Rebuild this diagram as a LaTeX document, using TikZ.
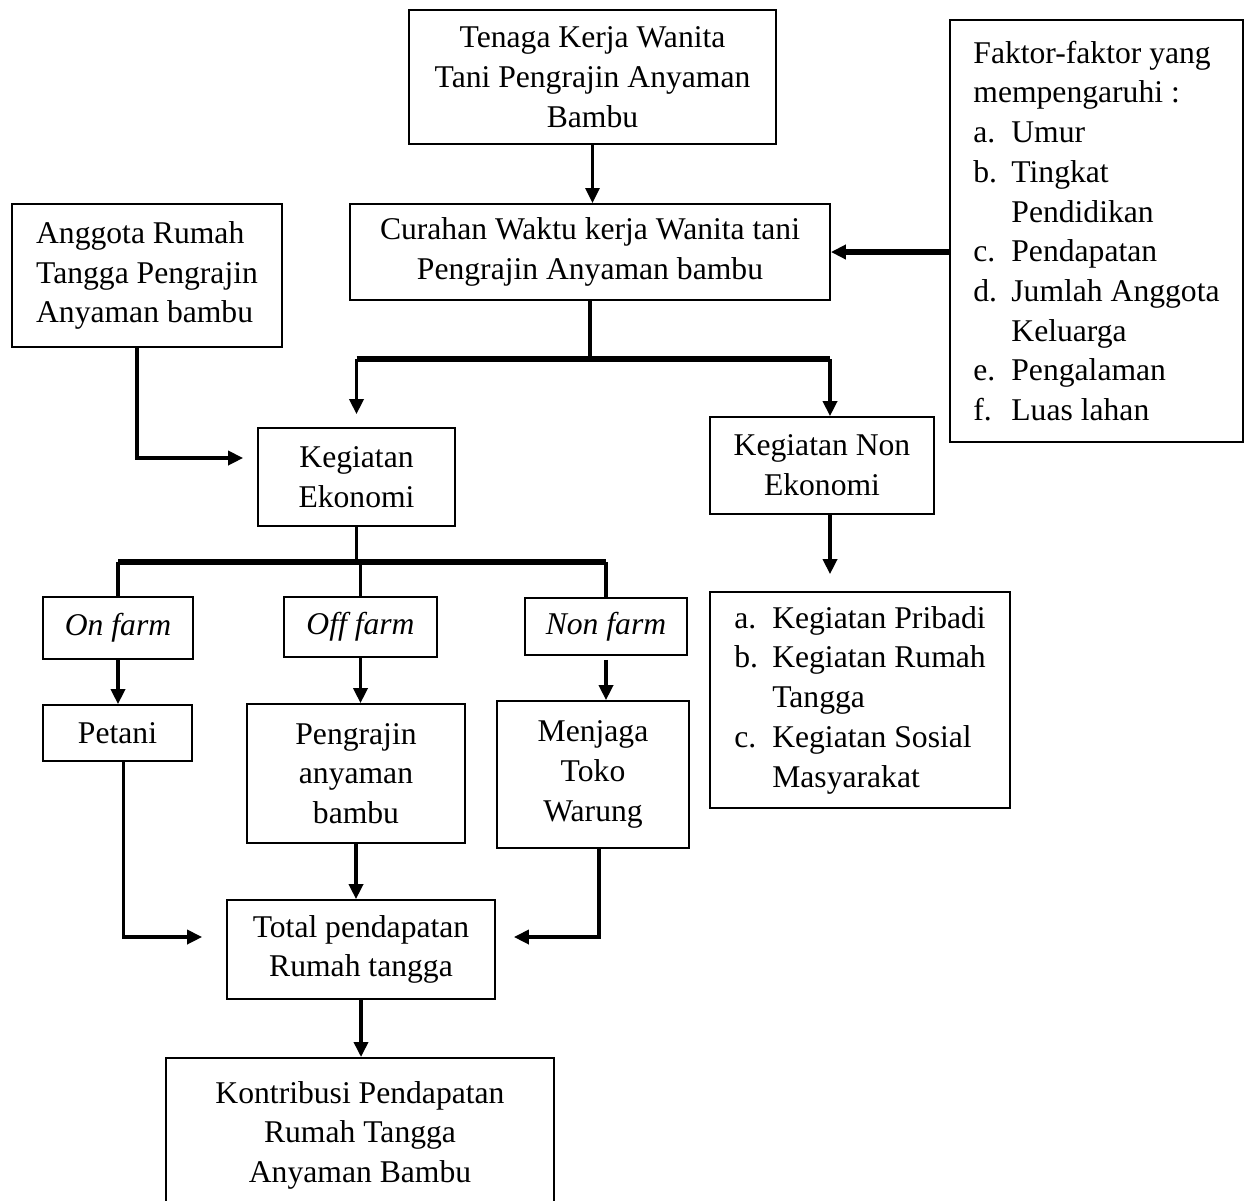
\documentclass[tikz,border=0pt]{standalone}
\usepackage{fontspec}
\setmainfont{Liberation Serif}
\usetikzlibrary{arrows.meta}
\newcommand{\itm}[1]{\makebox[0.38cm][l]{#1}}

\begin{document}
\begin{tikzpicture}[>={Triangle[length=0.15cm,width=0.14cm]}, font=\fontsize{9}{11.3}\selectfont]
    \tikzstyle{box}=[rectangle,draw,line width=0.5pt,align=center,inner sep=0pt]
    \tikzstyle{lst}=[box,align=left]
    \tikzstyle{arr}=[->,line width=1pt]
    \tikzstyle{stem}=[line width=1pt]
    \tikzstyle{bus}=[line width=1.5pt]

    \clip (0,0) rectangle (12.45,-12);

    % top row nodes
    \node[box, minimum width=3.67cm, minimum height=1.34cm] (tenaga) at (5.925,-0.77)
        {Tenaga Kerja Wanita\\Tani Pengrajin Anyaman\\Bambu};
    \node[lst, minimum width=2.93cm, minimum height=4.22cm] (faktor) at (10.965,-2.31)
        {Faktor-faktor yang\\mempengaruhi :\\\itm{a.}Umur\\\itm{b.}Tingkat\\\itm{}Pendidikan\\
         \itm{c.}Pendapatan\\\itm{d.}Jumlah Anggota\\\itm{}Keluarga\\\itm{e.}Pengalaman\\\itm{f.}Luas lahan};
    \node[box, minimum width=4.80cm, minimum height=0.96cm] (curahan) at (5.90,-2.52)
        {Curahan Waktu kerja Wanita tani\\Pengrajin Anyaman bambu};
    \node[lst, minimum width=2.70cm, minimum height=1.43cm] (anggota) at (1.47,-2.755)
        {Anggota Rumah\\Tangga Pengrajin\\Anyaman bambu};

    % activity nodes
    \node[box, minimum width=1.97cm, minimum height=0.98cm] (ekonomi) at (3.565,-4.77)
        {Kegiatan\\Ekonomi};
    \node[box, minimum width=2.24cm, minimum height=0.97cm] (nonekonomi) at (8.22,-4.655)
        {Kegiatan Non\\Ekonomi};
    \node[lst, minimum width=3.00cm, minimum height=2.16cm] (nonlist) at (8.60,-7.00)
        {\itm{a.}Kegiatan Pribadi\\\itm{b.}Kegiatan Rumah\\\itm{}Tangga\\\itm{c.}Kegiatan Sosial\\\itm{}Masyarakat};

    % farm type nodes
    \node[box, minimum width=1.50cm, minimum height=0.62cm] (onfarm) at (1.18,-6.28) {\itshape On farm};
    \node[box, minimum width=1.53cm, minimum height=0.60cm] (offfarm) at (3.605,-6.27) {\itshape Off farm};
    \node[box, minimum width=1.62cm, minimum height=0.57cm] (nonfarm) at (6.06,-6.265) {\itshape Non farm};

    % job nodes
    \node[box, minimum width=1.49cm, minimum height=0.56cm] (petani) at (1.175,-7.33) {Petani};
    \node[box, minimum width=2.18cm, minimum height=1.39cm] (pengrajin) at (3.56,-7.735)
        {Pengrajin\\anyaman\\bambu};
    \node[box, minimum width=1.92cm, minimum height=1.47cm] (menjaga) at (5.93,-7.745)
        {Menjaga\\Toko\\Warung};

    % income nodes
    \node[box, minimum width=2.68cm, minimum height=0.99cm] (total) at (3.61,-9.495)
        {Total pendapatan\\Rumah tangga};
    \node[box, anchor=north, minimum width=3.88cm, minimum height=1.55cm] (kontribusi) at (3.60,-10.57)
        {Kontribusi Pendapatan\\Rumah Tangga\\Anyaman Bambu};

    % split points
    \coordinate (bus1) at (5.92,-3.59);
    \coordinate (bus2) at (3.60,-5.62);

    % upper connections
    \draw[arr, line width=0.8pt] (tenaga) -- (tenaga.south |- curahan.north);
    \draw[arr, line width=1.5pt] (faktor.west |- curahan.east) -- (curahan.east);
    \draw[stem] (curahan.south) -- (curahan.south |- bus1);
    \draw[bus] (ekonomi.north |- bus1) -- ([xshift=0.08cm]nonekonomi.north |- bus1);
    \draw[arr, shorten >=0.13cm] (ekonomi.north |- bus1) -- (ekonomi.north);
    \draw[arr] ([xshift=0.08cm]nonekonomi.north |- bus1) -- ([xshift=0.08cm]nonekonomi.north);
    \draw[arr, shorten >=0.14cm] ([xshift=-0.1cm]anggota.south) |- ([yshift=0.19cm]ekonomi.west);
    \draw[arr, shorten >=0.17cm] ([xshift=0.08cm]nonekonomi.south) -- ([xshift=0.08cm]nonekonomi.south |- nonlist.north);

    % split of the economic activity
    \draw[stem] (ekonomi.south) -- (ekonomi.south |- bus2);
    \draw[bus] (onfarm.north |- bus2) -- (nonfarm.north |- bus2);
    \foreach \dst in {onfarm,offfarm,nonfarm}
    \draw[stem] (\dst.north |- bus2) -- (\dst.north);

    % farm type to job
    \foreach \src/\dst in {onfarm/petani,offfarm/pengrajin}
    \draw[arr] (\src) -- (\src.south |- \dst.north);
    \draw[arr, shorten <=0.04cm] (nonfarm.south) -- (nonfarm.south |- menjaga.north);

    % job to income
    \draw[arr, shorten >=0.24cm] ([xshift=0.06cm]petani.south) |- ([yshift=0.125cm]total.west);
    \draw[arr] (pengrajin) -- (pengrajin.south |- total.north);
    \draw[arr, shorten >=0.18cm] ([xshift=0.06cm]menjaga.south) |- ([yshift=0.125cm]total.east);
    \draw[arr] (total) -- (total.south |- kontribusi.north);
  \end{tikzpicture}
\end{document}
